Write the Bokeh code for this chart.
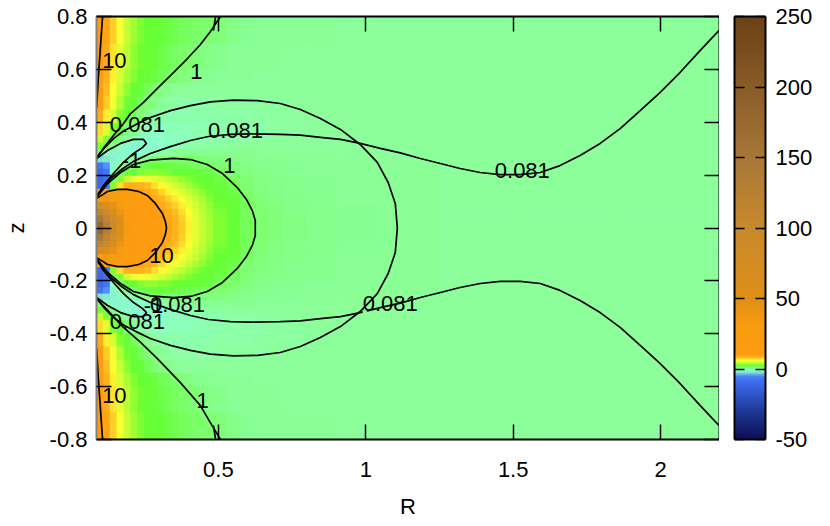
from bokeh.plotting import figure
from bokeh.layouts import row
from bokeh.models import ColumnDataSource, Range1d, LinearAxis, FixedTicker, LinearColorMapper
from bokeh.transform import linear_cmap
from bokeh.embed import file_html
from bokeh.resources import INLINE
from bokeh.core.properties import value
import numpy as np

FONT = "Liberation Sans"

# grid cell edges of the map (upper half; the lower half mirrors it)
r_edges = [0.087, 0.11, 0.133, 0.156, 0.18, 0.203, 0.226, 0.25, 0.273, 0.296, 0.32, 0.343, 0.366, 0.39, 0.413,
           0.436, 0.46, 0.483, 0.53, 0.576, 0.62, 0.67, 0.72, 0.8, 0.9, 1.05, 1.25, 1.5, 1.85, 2.2]
z_edges = [0, 0.025, 0.05, 0.075, 0.1, 0.125, 0.15, 0.175, 0.2, 0.225, 0.25, 0.275, 0.3, 0.325, 0.35,
           0.4, 0.45, 0.5, 0.55, 0.6, 0.7, 0.8]

row_00 = [180, 130, 90, 55, 32, 24, 18, 15, 13, 11, 9.5, 8.6, 7.6, 6.4, 5.2, 4.4, 3.7, 3, 2.2, 1.3, .9, .7, .5, .35, .2, .1, .08, .08, .08]
row_01 = [150, 115, 80, 50, 30, 22, 17, 14, 12.5, 10.5, 9.2, 8.4, 7.4, 6.2, 5.1, 4.3, 3.6, 3, 2.2, 1.3, .9, .7, .5, .35, .2, .1, .08, .08, .08]
row_02 = [110, 90, 65, 40, 26, 20, 15, 13, 11.5, 10, 8.8, 8, 7, 6, 4.9, 4.2, 3.5, 2.9, 2.1, 1.3, .9, .65, .45, .33, .2, .1, .08, .08, .08]
row_03 = [70, 60, 45, 32, 22, 17, 14, 11.5, 10, 9, 8.2, 7.4, 6.4, 5.4, 4.6, 3.9, 3.3, 2.7, 2, 1.3, .85, .6, .45, .3, .2, .1, .08, .08, .08]
row_04 = [25, 35, 30, 24, 18, 14, 12, 10, 9, 8.4, 7.4, 6.6, 5.8, 5, 4.3, 3.6, 3, 2.5, 1.8, 1.2, .75, .55, .4, .3, .18, .1, .08, .08, .08]
row_05 = [8, 12, 16, 15, 13, 11.5, 10, 9, 8.4, 7.2, 6.4, 5.6, 5, 4.3, 3.7, 3.2, 2.7, 2.2, 1.6, 1, .65, .5, .35, .25, .17, .1, .08, .08, .08]
row_06 = [-10, -7, 3, 7, 8.6, 8.8, 8.6, 8, 7, 6.2, 5.3, 4.7, 4.1, 3.6, 3.1, 2.7, 2.3, 1.9, 1.4, .9, .6, .45, .3, .22, .15, .09, .08, .08, .08]
row_07 = [-11, -9, .8, 3, 4.5, 5.5, 5.8, 5.6, 5.2, 4.7, 4.2, 3.7, 3.3, 2.9, 2.6, 2.3, 2, 1.6, 1.2, .8, .5, .4, .3, .2, .13, .09, .08, .08, .08]
row_08 = [-11, -8, -.5, 1, 1.8, 2.5, 3, 3.2, 3.2, 3, 2.9, 2.6, 2.4, 2.2, 2, 1.8, 1.6, 1.3, 1, .65, .45, .33, .25, .17, .12, .09, .08, .08, .08]
row_09 = [-8, -5, -1.2, 0, .7, 1, 1.4, 1.6, 1.8, 1.8, 1.7, 1.6, 1.5, 1.4, 1.3, 1.2, 1.1, 1, .75, .5, .35, .26, .2, .14, .1, .09, .08, .08, .08]
row_10 = [-2.5, -2, -1.4, -1, -.6, -.3, 0, .3, .6, .8, .9, 1, 1, 1, .9, .85, .75, .65, .5, .35, .25, .2, .15, .11, .09, .08, .08, .08, .08]
row_11 = [.5, -.5, -1.2, -1.2, -1.1, -1, -.8, -.6, -.4, -.2, 0, .1, .2, .25, .25, .25, .25, .25, .25, .2, .15, .13, .1, .09, .08, .08, .08, .08, .08]
row_12 = [3, 1.5, .4, -.5, -1, -1.2, -1.2, -1.1, -1, -.8, -.6, -.5, -.4, -.3, -.25, -.2, -.1, -.05, 0, .05, .08, .08, .08, .08, .08, .08, .08, .08, .08]
row_13 = [4.5, 3, 1.5, .5, -.1, -.5, -.8, -1, -.9, -.8, -.7, -.6, -.5, -.45, -.4, -.35, -.3, -.25, -.2, -.15, -.1, -.05, 0, .05, .08, .08, .08, .08, .08]
row_14 = [7, 5, 3, 1.8, .8, .2, -.2, -.4, -.5, -.55, -.5, -.5, -.45, -.45, -.4, -.35, -.3, -.25, -.2, -.15, -.12, -.08, -.03, .02, .07, .08, .08, .08, .08]
row_15 = [9, 6.5, 4.8, 3, 2, 1.2, .7, .2, -.05, -.2, -.3, -.3, -.3, -.3, -.3, -.25, -.22, -.2, -.15, -.12, -.1, -.05, -.02, .02, .07, .08, .08, .08, .08]
row_16 = [10, 7.5, 5.6, 3.8, 2.7, 2, 1.3, .85, .4, .1, -.05, -.1, -.15, -.15, -.15, -.15, -.12, -.1, -.08, -.05, -.03, 0, .03, .06, .08, .08, .08, .08, .08]
row_17 = [11, 8, 6, 4.4, 3.2, 2.4, 1.8, 1.3, .9, .55, .3, .15, .08, .04, .03, .03, .03, .03, .03, .04, .05, .06, .07, .08, .08, .08, .08, .08, .08]
row_18 = [12, 8.6, 6.4, 4.8, 3.7, 3, 2.4, 2, 1.7, 1.4, 1.2, 1, .75, .5, .35, .25, .2, .15, .1, .09, .08, .08, .08, .08, .08, .08, .08, .08, .08]
row_19 = [13, 9, 6.8, 5.2, 4, 3.2, 2.7, 2.2, 1.9, 1.65, 1.45, 1.25, 1.1, 1, .8, .6, .45, .3, .18, .12, .1, .09, .08, .08, .08, .08, .08, .08, .08]
row_20 = [14, 9.4, 7.4, 5.8, 4.4, 3.5, 2.9, 2.5, 2.2, 1.9, 1.7, 1.5, 1.35, 1.25, 1.15, 1.08, 1, .7, .4, .25, .15, .12, .1, .09, .08, .08, .08, .08, .08]
heat_rows = [row_00, row_01, row_02, row_03, row_04, row_05, row_06, row_07, row_08, row_09, row_10,
             row_11, row_12, row_13, row_14, row_15, row_16, row_17, row_18, row_19, row_20]

# contour curves, upper half (R list, z list); the lower half mirrors them
outer_r = [.087, .114, .144, .178, .219, .269, .337, .405, .473, .551, .632, .710, .778, .846, .914, .981, 1.039, 1.076, 1.100, 1.107]
outer_z = [.267, .304, .338, .367, .391, .418, .444, .463, .477, .484, .482, .471, .448, .414, .373, .316, .248, .172, .093, 0]
long_r = [.087, .110, .134, .171, .212, .269, .337, .405, .466, .541, .608, .710, .778, .846, .914, .981, 1.049, 1.117, 1.185,
          1.253, 1.320, 1.388, 1.456, 1.524, 1.592, 1.659, 1.727, 1.795, 1.863, 1.931, 1.998, 2.066, 2.134, 2.198]
long_z = [.123, .157, .187, .221, .252, .282, .308, .331, .346, .354, .356, .354, .351, .343, .335, .320, .301, .284, .263,
          .244, .225, .210, .202, .202, .210, .236, .274, .320, .376, .444, .512, .588, .671, .747]
one_spur_r = [.49, .483]
one_spur_z = [.797, .747]
minus_r = [.087, .124, .168, .212, .246, .256, .242, .212, .178, .144, .110, .087]
minus_z = [.263, .293, .320, .335, .335, .320, .304, .282, .248, .206, .161, .119]
one_inner_r = [.087, .124, .168, .212, .269, .347, .405, .462, .514, .564, .595, .615, .625, .625]
one_inner_z = [.115, .168, .210, .240, .257, .263, .259, .240, .206, .153, .108, .066, .028, 0]
ten_inner_r = [.087, .124, .158, .191, .229, .259, .286, .310, .320, .324]
ten_inner_z = [.112, .138, .146, .146, .138, .123, .093, .055, .025, 0]
ten_outer_r = [.087, .093, .1, .107]
ten_outer_z = [.456, .577, .69, .8]
curves = [(outer_r, outer_z), (long_r, long_z), (one_spur_r, one_spur_z),
          (minus_r, minus_z), (one_inner_r, one_inner_z), (ten_inner_r, ten_inner_z), (ten_outer_r, ten_outer_z)]
# the outer "1" contour differs between the upper and lower half
one_upper_r = [.087, .117, .144, .178, .202, .246, .293, .344, .395, .439, .473, .507]
one_upper_z = [.267, .312, .350, .395, .433, .475, .528, .584, .641, .694, .743, .8]
one_lower_r = [.087, .178, .236, .293, .371, .439, .473, .507]
one_lower_z = [-.267, -.376, -.433, -.494, -.585, -.672, -.737, -.8]
# small break in the lower contours where they cross
gap_r = [.99, 1.004]
gap_z = [-.32, -.316]

# contour labels
label_text = ["10", "1", "0.081", "-1", "0.081", "1", "0.081", "10", "0.081", "-1", "0.081", "0.081", "10", "1"]
label_r = [.147, .425, .225, .205, .558, .537, 1.531, .307, .361, .280, 1.083, .225, .147, .446]
label_z = [.633, .592, .391, .255, .369, .236, .217, -.104, -.289, -.293, -.286, -.354, -.633, -.652]

x_ticks = [0.5, 1, 1.5, 2]
x_tick_text = ["0.5", "1", "1.5", "2"]
y_ticks = [-0.8, -0.6, -0.4, -0.2, 0, 0.2, 0.4, 0.6, 0.8]
y_tick_text = ["-0.8", "-0.6", "-0.4", "-0.2", "0", "0.2", "0.4", "0.6", "0.8"]
cb_ticks = [-50, 0, 50, 100, 150, 200, 250]
cb_tick_text = ["-50", "0", "50", "100", "150", "200", "250"]

# colour scale anchors (value, rgb)
anchors = [(-50, (14, 14, 85)), (-30, (30, 58, 150)), (-11, (59, 104, 232)), (-5.5, (70, 125, 255)),
           (-3, (125, 220, 215)), (-0.8, (140, 255, 205)), (0, (140, 255, 155)), (1, (125, 255, 110)),
           (1.8, (105, 255, 60)), (2.5, (102, 255, 51)), (4, (187, 255, 51)), (6, (255, 255, 51)), (8, (255, 187, 34)),
           (10, (255, 156, 16)), (31, (248, 156, 16)), (50, (224, 144, 24)), (100, (200, 138, 44)),
           (150, (168, 120, 56)), (200, (138, 92, 40)), (250, (107, 66, 21))]
vals = np.linspace(-50, 250, 3001)
chan = [np.interp(vals, [a[0] for a in anchors], [a[1][i] for a in anchors]) for i in range(3)]
palette = ["#%02x%02x%02x" % (int(r), int(g), int(b)) for r, g, b in zip(*chan)]

left, right, bottom, top, cell = [], [], [], [], []
for j, vs in enumerate(heat_rows):
    for i, v in enumerate(vs):
        for sign in (1, -1):
            z0, z1 = sorted((sign * z_edges[j], sign * z_edges[j + 1]))
            left.append(r_edges[i]); right.append(r_edges[i + 1]); bottom.append(z0); top.append(z1); cell.append(v)
src = ColumnDataSource(dict(left=left, right=right, bottom=bottom, top=top, value=cell))

p = figure(frame_width=623, frame_height=423, width=719, height=523, output_backend="svg", toolbar_location=None,
           x_range=Range1d(0.0864, 2.2), y_range=Range1d(-0.8, 0.8), outline_line_color=None,
           min_border_left=96, min_border_right=0, min_border_top=16, min_border_bottom=84)
cmap = linear_cmap("value", palette, -50, 250)
p.quad(left="left", right="right", bottom="bottom", top="top", source=src, fill_color=cmap, line_color=cmap, line_width=1)
p.grid.visible = False

for rs, zs in curves:
    p.line(rs, zs, line_color="black", line_width=1.7)
    p.line(rs, [-z for z in zs], line_color="black", line_width=1.7)
p.line(one_upper_r, one_upper_z, line_color="black", line_width=1.7)
p.line(one_lower_r, one_lower_z, line_color="black", line_width=1.7)
p.line(gap_r, gap_z, line_color="#8cff9b", line_width=3.5)

p.text(label_r, label_z, text=label_text, text_font=value(FONT), text_font_size="22px", text_color="black",
       text_align="center", text_baseline="middle")


def style(ax, ticks, labels, size=15):
    ax.level = "overlay"
    ax.ticker = FixedTicker(ticks=ticks)
    ax.major_label_overrides = dict(zip(ticks, labels))
    ax.major_tick_in = size
    ax.major_tick_out = 0
    ax.minor_tick_in = 0
    ax.minor_tick_out = 0
    ax.major_tick_line_color = "black"
    ax.major_tick_line_width = 1.5
    ax.axis_line_color = "black"
    ax.axis_line_width = 2
    ax.major_label_text_font = FONT
    ax.major_label_text_font_size = "22px"
    ax.major_label_text_color = "black"
    ax.axis_label_text_font = FONT
    ax.axis_label_text_font_size = "22px"
    ax.axis_label_text_font_style = "normal"
    ax.axis_label_text_color = "black"


style(p.xaxis[0], x_ticks, x_tick_text)
style(p.yaxis[0], y_ticks, y_tick_text)
p.xaxis[0].axis_label = "R"
p.yaxis[0].axis_label = "z"
p.xaxis[0].major_label_standoff = 22
p.xaxis[0].axis_label_standoff = 14
p.yaxis[0].major_label_standoff = 9
p.yaxis[0].axis_label_standoff = 18
p.yaxis[0].axis_line_color = "#808080"

for loc, ticks in (("above", x_ticks), ("right", y_ticks)):
    ax = LinearAxis()
    style(ax, ticks, [""] * len(ticks))
    ax.major_label_text_font_size = "0px"
    ax.major_label_standoff = 0
    p.add_layout(ax, loc)

# colour bar
cb = figure(frame_width=31, frame_height=423, width=106, height=523, output_backend="svg", toolbar_location=None,
            x_range=Range1d(0, 1), y_range=Range1d(-50, 250), outline_line_color=None,
            min_border_left=15, min_border_right=60, min_border_top=16, min_border_bottom=84)
cb.grid.visible = False
ramp = np.linspace(-50, 250, 600).reshape(-1, 1)
cb.image(image=[ramp], x=0, y=-50, dw=1, dh=300, color_mapper=LinearColorMapper(palette=palette, low=-50, high=250))
cb.xaxis.visible = False
cb.yaxis.visible = False
cax = LinearAxis()
style(cax, cb_ticks, cb_tick_text, size=10)
cax.major_label_standoff = 10
cb.add_layout(cax, "right")
cax2 = LinearAxis()
style(cax2, cb_ticks, [""] * len(cb_ticks), size=10)
cax2.major_label_text_font_size = "0px"
cax2.major_label_standoff = 0
cb.add_layout(cax2, "left")
for loc in ("above", "below"):
    e = LinearAxis()
    style(e, [], [], size=0)
    e.major_label_text_font_size = "0px"
    e.major_label_standoff = 0
    cb.add_layout(e, loc)

layout = row(p, cb, spacing=0)
open("out.html", "w").write(file_html(layout, INLINE))
